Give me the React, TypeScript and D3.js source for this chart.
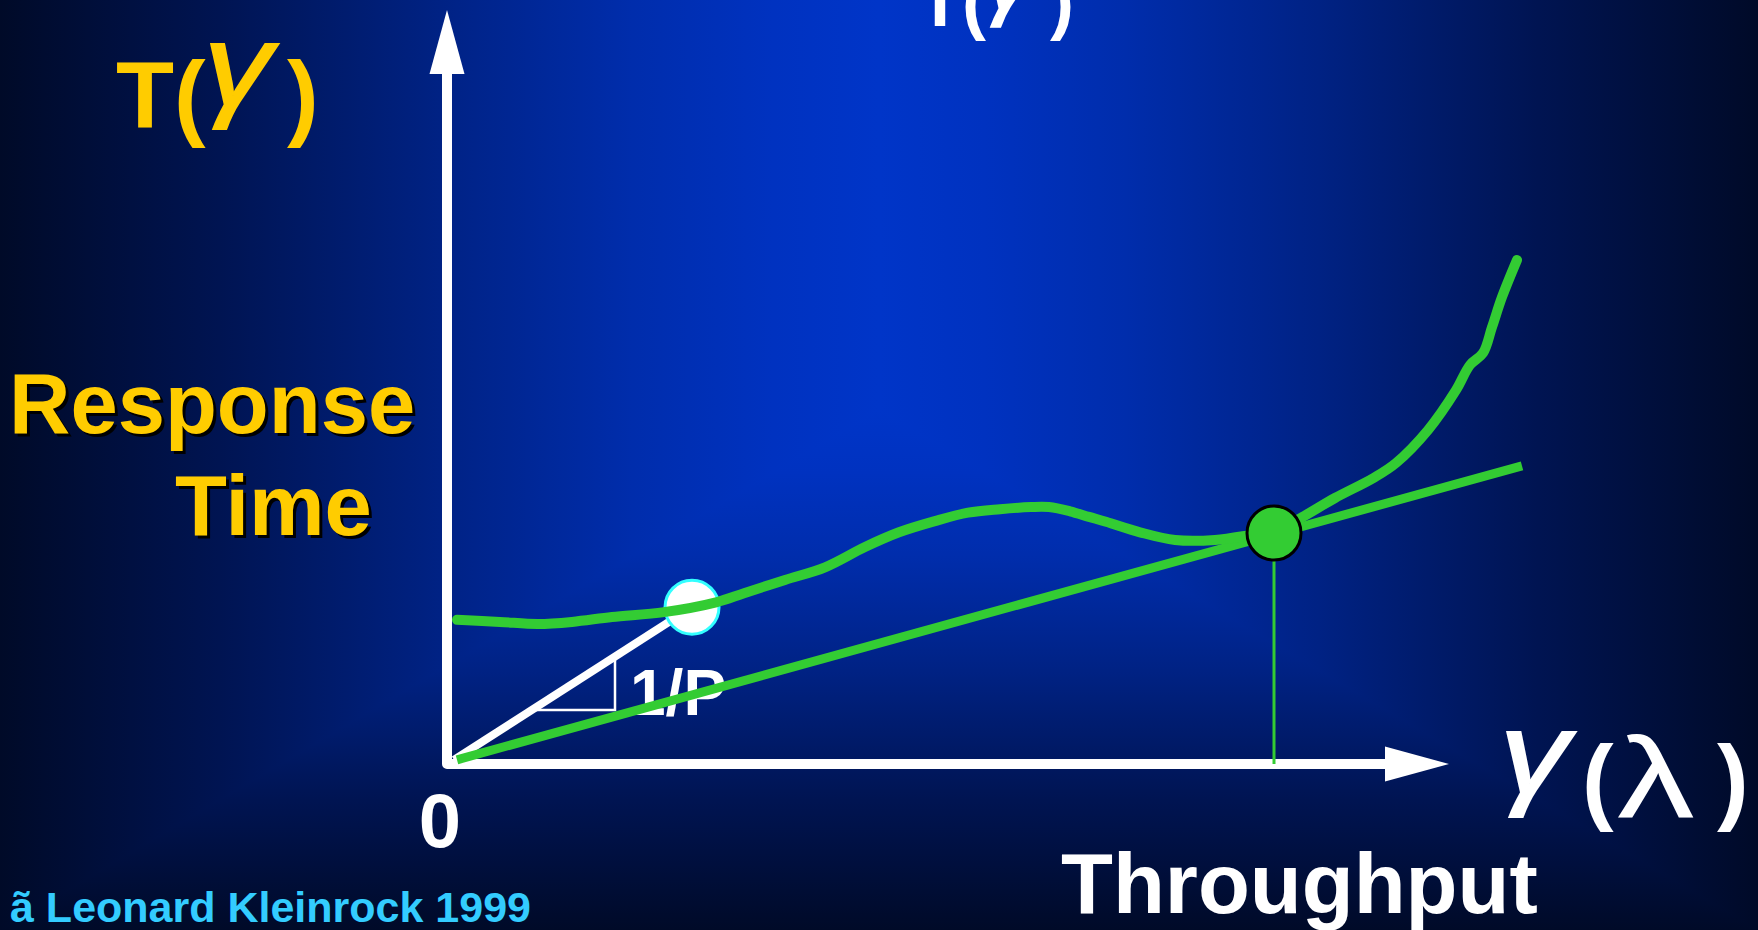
import React from "react";
import * as d3 from "d3";

// Response-time curve T(γ) against throughput γ(λ)
const responseCurve: [number, number][] = [
  [1.0, 20.6], [5.3, 20.3], [9.1, 20.0], [12.5, 20.3], [16.5, 21.0],
  [21.7, 21.7], [26.9, 23.1], [29.7, 24.4], [33.8, 26.3], [37.8, 28.1],
  [41.8, 31.0], [45.2, 33.1], [48.8, 34.7], [52.1, 35.9], [55.3, 36.4],
  [58.4, 36.7], [60.2, 36.7], [62.3, 36.1], [64.2, 35.3], [65.9, 34.6],
  [69.3, 33.1], [72.8, 32.0], [76.8, 32.0], [80.3, 32.7], [82.7, 33.3],
  [85.3, 35.1], [88.8, 38.0], [92.7, 40.9], [94.9, 43.0], [98.1, 47.7],
  [100.9, 53.4], [102.3, 57.0], [103.6, 58.7], [104.5, 62.4], [105.5, 66.7],
  [107.0, 72.0],
];

// Line of constant power through the origin, tangent at the optimum
const powerLine: [number, number][] = [[1.0, 0.6], [107.5, 42.6]];

// Line from the origin to the point of minimum response time (slope 1/P)
const slopeLine: [number, number][] = [[0.7, 0.6], [24.5, 22.4]];
const minDelayPoint: [number, number] = [24.5, 22.4];
const optimumPoint: [number, number] = [82.7, 33.0];
const slopeTriangle = { x: 16.8, y: 7.7 };

// Axis extents (data units)
const xAxisMax = 100.2;
const yAxisMax = 107.7;

const yTitleLines = ["Response", "Time"];
const xTitle = "Throughput";
const originLabel = "0";
const slopeLabel = "1/P";
const credit = "ã Leonard Kleinrock 1999";

const W = 1758;
const H = 930;
const FONT = "'Liberation Sans', Arial, Helvetica, sans-serif";
const YELLOW = "#FFCC00";
const GREEN = "#33CC33";

// background shading from the slide edge (offset 0) to its bright centre (offset 1)
const bgStops: [number, string][] = [
  [0, "#000A28"],
  [0.25, "#001452"],
  [0.5, "#002284"],
  [0.72, "#002DAC"],
  [0.88, "#0032C0"],
  [1, "#0035C8"],
];

export default function App() {
  const x = d3.scaleLinear().domain([0, 100]).range([447, 1447]);
  const y = d3.scaleLinear().domain([0, 100]).range([764, 64]);

  const line = d3
    .line<[number, number]>()
    .x((d) => x(d[0]))
    .y((d) => y(d[1]));
  const smooth = d3
    .line<[number, number]>()
    .x((d) => x(d[0]))
    .y((d) => y(d[1]))
    .curve(d3.curveCatmullRom.alpha(0.5));

  const ox = x(0);
  const oy = y(0);
  const yTip = y(yAxisMax);
  const xTip = x(xAxisMax);
  const arrowLen = 64;
  const arrowHalf = 17.5;

  // slope triangle: horizontal leg starts on the slope line, vertical leg ends on it
  const [p0, p1] = slopeLine;
  const slope = (p1[1] - p0[1]) / (p1[0] - p0[0]);
  const triLeftX = p0[0] + (slopeTriangle.y - p0[1]) / slope;
  const triTopY = p0[1] + (slopeTriangle.x - p0[0]) * slope;

  const cy = 410; // where the background starts to darken downwards

  return (
    <svg
      width={W}
      height={H}
      style={{ position: "absolute", left: 0, top: 0, display: "block" }}
    >
      <defs>
        <linearGradient id="bgL" gradientUnits="userSpaceOnUse" x1={0} y1={0} x2={W / 2} y2={0}>
          {bgStops.map(([o, c]) => (
            <stop key={o} offset={o} stopColor={c} />
          ))}
        </linearGradient>
        <linearGradient id="bgR" gradientUnits="userSpaceOnUse" x1={W} y1={0} x2={W / 2} y2={0}>
          {bgStops.map(([o, c]) => (
            <stop key={o} offset={o} stopColor={c} />
          ))}
        </linearGradient>
        <linearGradient id="bgV" gradientUnits="userSpaceOnUse" x1={0} y1={H} x2={0} y2={cy}>
          {bgStops.map(([o, c]) => (
            <stop key={o} offset={o} stopColor={c} />
          ))}
        </linearGradient>
      </defs>

      <rect x={0} y={0} width={W / 2 + 1} height={H} fill="url(#bgL)" />
      <rect x={W / 2} y={0} width={W / 2} height={H} fill="url(#bgR)" />
      <polygon points={`0,${H} ${W / 2},${cy} ${W},${H}`} fill="url(#bgV)" />

      {/* top heading, partly off the top edge */}
      <g fill="#FFFFFF" fontFamily={FONT}>
        <text x={918} y={26} fontSize={72} fontWeight="bold">T(</text>
        <text
          transform="translate(984,9) scale(1.15,1)"
          fontSize={87}
          fontStyle="italic"
          stroke="#FFFFFF"
          strokeWidth={1.5}
        >
          γ
        </text>
        <text x={1050} y={26} fontSize={72} fontWeight="bold">)</text>
      </g>

      {/* y-axis symbol */}
      <g fill={YELLOW} fontFamily={FONT}>
        <text x={116} y={128} fontSize={95} fontWeight="bold">T(</text>
        <text
          transform="translate(204,105) scale(1.18,1)"
          fontSize={115}
          fontStyle="italic"
          stroke={YELLOW}
          strokeWidth={2}
        >
          γ
        </text>
        <text x={287} y={128} fontSize={95} fontWeight="bold">)</text>
      </g>

      {/* y-axis title with drop shadow */}
      <g fontFamily={FONT} fontWeight="bold" fontSize={85}>
        {yTitleLines.map((t, i) => {
          const tx = i === 0 ? 9 : 175;
          const ty = i === 0 ? 433 : 535;
          return (
            <g key={t}>
              <text x={tx + 3} y={ty + 3} fill="#000000">{t}</text>
              <text x={tx} y={ty} fill={YELLOW}>{t}</text>
            </g>
          );
        })}
      </g>

      {/* slope triangle */}
      <path
        d={`M${x(triLeftX)},${y(slopeTriangle.y)} H${x(slopeTriangle.x)} V${y(triTopY)}`}
        fill="none"
        stroke="#FFFFFF"
        strokeWidth={2.5}
      />
      <path d={line(slopeLine) ?? ""} fill="none" stroke="#FFFFFF" strokeWidth={8} />
      <text x={630} y={715} fontFamily={FONT} fontWeight="bold" fontSize={64} fill="#FFFFFF">
        {slopeLabel}
      </text>

      {/* axes */}
      <path
        d={`M${ox},${yTip + arrowLen} V${oy} H${xTip - arrowLen}`}
        fill="none"
        stroke="#FFFFFF"
        strokeWidth={10}
        strokeLinejoin="round"
      />
      <polygon
        points={`${ox},${yTip} ${ox - arrowHalf},${yTip + arrowLen} ${ox + arrowHalf},${yTip + arrowLen}`}
        fill="#FFFFFF"
      />
      <polygon
        points={`${xTip},${oy} ${xTip - arrowLen},${oy - arrowHalf} ${xTip - arrowLen},${oy + arrowHalf}`}
        fill="#FFFFFF"
      />

      {/* minimum-delay point */}
      <circle
        cx={x(minDelayPoint[0])}
        cy={y(minDelayPoint[1])}
        r={27}
        fill="#FFFFFF"
        stroke="#33FFFF"
        strokeWidth={3}
      />

      {/* power line and response curve */}
      <path d={line(powerLine) ?? ""} fill="none" stroke={GREEN} strokeWidth={9} />
      <path
        d={smooth(responseCurve) ?? ""}
        fill="none"
        stroke={GREEN}
        strokeWidth={10}
        strokeLinecap="round"
        strokeLinejoin="round"
      />

      {/* optimum operating point */}
      <line
        x1={x(optimumPoint[0])}
        x2={x(optimumPoint[0])}
        y1={y(optimumPoint[1])}
        y2={oy}
        stroke={GREEN}
        strokeWidth={3}
      />
      <circle
        cx={x(optimumPoint[0])}
        cy={y(optimumPoint[1])}
        r={27}
        fill={GREEN}
        stroke="#000000"
        strokeWidth={3}
      />

      {/* x-axis symbol and labels */}
      <g fill="#FFFFFF" fontFamily={FONT}>
        <text
          transform="translate(1500,793) scale(1.2,1)"
          fontSize={115}
          fontStyle="italic"
          stroke="#FFFFFF"
          strokeWidth={2}
        >
          γ
        </text>
        <text x={1582} y={812} fontSize={95} fontWeight="bold">(</text>
        <text transform="translate(1617,817) scale(1.35,1)" fontSize={115}>λ</text>
        <text x={1717} y={812} fontSize={95} fontWeight="bold">)</text>
        <text x={440} y={847} fontSize={76} fontWeight="bold" textAnchor="middle">
          {originLabel}
        </text>
        <text x={1061} y={913} fontSize={85} fontWeight="bold">{xTitle}</text>
      </g>

      <text x={10} y={922} fontFamily={FONT} fontWeight="bold" fontSize={43} fill="#33CCFF">
        {credit}
      </text>
    </svg>
  );
}
